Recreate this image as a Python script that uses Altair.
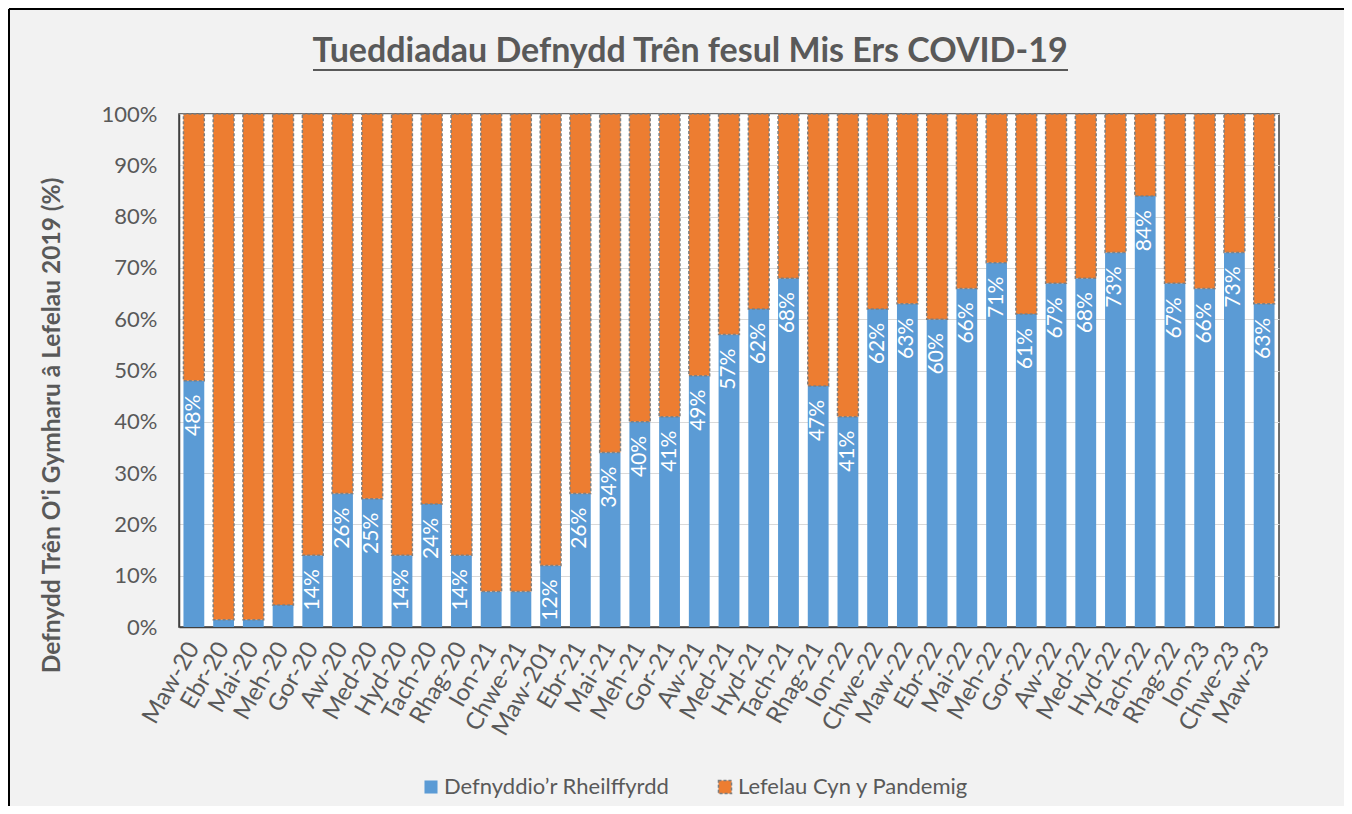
import altair as alt
import pandas as pd

months = ["Maw-20", "Ebr-20", "Mai-20", "Meh-20", "Gor-20", "Aw-20", "Med-20", "Hyd-20",
          "Tach-20", "Rhag-20", "Ion-21", "Chwe-21", "Maw-201", "Ebr-21", "Mai-21", "Meh-21",
          "Gor-21", "Aw-21", "Med-21", "Hyd-21", "Tach-21", "Rhag-21", "Ion-22", "Chwe-22",
          "Maw-22", "Ebr-22", "Mai-22", "Meh-22", "Gor-22", "Aw-22", "Med-22", "Hyd-22",
          "Tach-22", "Rhag-22", "Ion-23", "Chwe-23", "Maw-23"]
rail_use = [48, 1.4, 1.4, 4.3, 14, 26, 25, 14, 24, 14, 6.9, 6.9, 12, 26, 34, 40, 41, 49, 57, 62,
            68, 47, 41, 62, 63, 60, 66, 71, 61, 67, 68, 73, 84, 67, 66, 73, 63]
series_names = ["Defnyddio\u2019r Rheilffyrdd", "Lefelau Cyn y Pandemig"]
series_colors = ["#5b9bd5", "#ed7d31"]
total_level = 100
title_text = "Tueddiadau Defnydd Tr\u00ean fesul Mis Ers COVID-19"
y_title = "Defnydd Tr\u00ean O'i Gymharu \u00e2 Lefelau 2019 (%)"

rows = []
for m, v in zip(months, rail_use):
    rows.append({"month": m, "series": series_names[0], "start": 0, "end": v,
                 "label": f"{round(v)}%"})
    rows.append({"month": m, "series": series_names[1], "start": v, "end": total_level,
                 "label": ""})
df = pd.DataFrame(rows)

FONT = "Lato"
GREY = "#595959"

leg = alt.Legend(title=None, orient="none", direction="horizontal", legendX=241, legendY=662,
                 symbolType="square", symbolSize=170, labelFontSize=22, labelColor=GREY,
                 labelFont=FONT, columnPadding=44, labelOffset=2, labelLimit=0)

x_enc = alt.X("month:N", sort=months, title=None,
              scale=alt.Scale(paddingInner=0.3, paddingOuter=0.15),
              axis=alt.Axis(labelAngle=-60, labelFontSize=24, labelColor=GREY, labelFont=FONT,
                            ticks=False, labelPadding=17, domainColor="#404040",
                            domainWidth=1.5))

bars = alt.Chart(df).mark_bar(strokeWidth=1.5).encode(
    x=x_enc,
    y=alt.Y("start:Q", scale=alt.Scale(domain=[0, 100], nice=False),
            axis=alt.Axis(values=list(range(0, 101, 10)), labelExpr="datum.value + '%'",
                          title=y_title,
                          titleFontSize=24.5, titleFontWeight="bold", titleColor=GREY,
                          titleFont=FONT, titleAngle=270, titleX=-127, titleY=311,
                          titleAlign="center", titleBaseline="middle",
                          labelFontSize=22, labelColor=GREY, labelFont=FONT, ticks=False,
                          labelPadding=22, grid=True, gridColor="#d9d9d9",
                          domainColor="#404040", domainWidth=1.5)),
    y2="end:Q",
    color=alt.Color("series:N", scale=alt.Scale(domain=series_names, range=series_colors),
                    legend=leg),
    stroke=alt.Stroke("series:N", scale=alt.Scale(domain=series_names,
                                                  range=["transparent", "#7f7f7f"]),
                      legend=leg),
    strokeDash=alt.StrokeDash("series:N", scale=alt.Scale(domain=series_names,
                                                          range=[[1, 0], [3, 2]]),
                              legend=leg),
)

labels = alt.Chart(df).transform_filter(
    (alt.datum.series == series_names[0]) & (alt.datum.end >= 10)
).mark_text(angle=270, align="right", baseline="middle", dx=-14, color="white",
            fontSize=21, font=FONT).encode(
    x=alt.X("month:N", sort=months),
    y=alt.Y("end:Q"),
    text="label:N",
)

title_df = pd.DataFrame({"t": [title_text]})
title_mark = alt.Chart(title_df).mark_text(
    fontSize=34, fontWeight="bold", color=GREY, font=FONT, align="center",
    baseline="alphabetic").encode(
    text="t:N", x=alt.value(511), y=alt.value(-52))

underline = alt.Chart(title_df).mark_rule(color=GREY, strokeWidth=2).encode(
    x=alt.value(134), x2=alt.value(889), y=alt.value(-44))

frame_left = alt.Chart(title_df).mark_rule(color="black", strokeWidth=2).encode(
    x=alt.value(-170), y=alt.value(-105), y2=alt.value(700))
frame_top = alt.Chart(title_df).mark_rule(color="black", strokeWidth=2).encode(
    x=alt.value(-170), x2=alt.value(1180), y=alt.value(-105))

chart = alt.layer(bars, labels, title_mark, underline, frame_left, frame_top).properties(
    width=1100, height=513,
    autosize=alt.AutoSizeParams(type="none"),
    padding={"left": 171, "top": 106, "right": 65, "bottom": 179},
).configure(background="#f2f2f2").configure_view(
    fill="white", stroke="#404040", strokeWidth=1.5
)

chart.save("out.html", embed_options={"renderer": "svg", "actions": False})
